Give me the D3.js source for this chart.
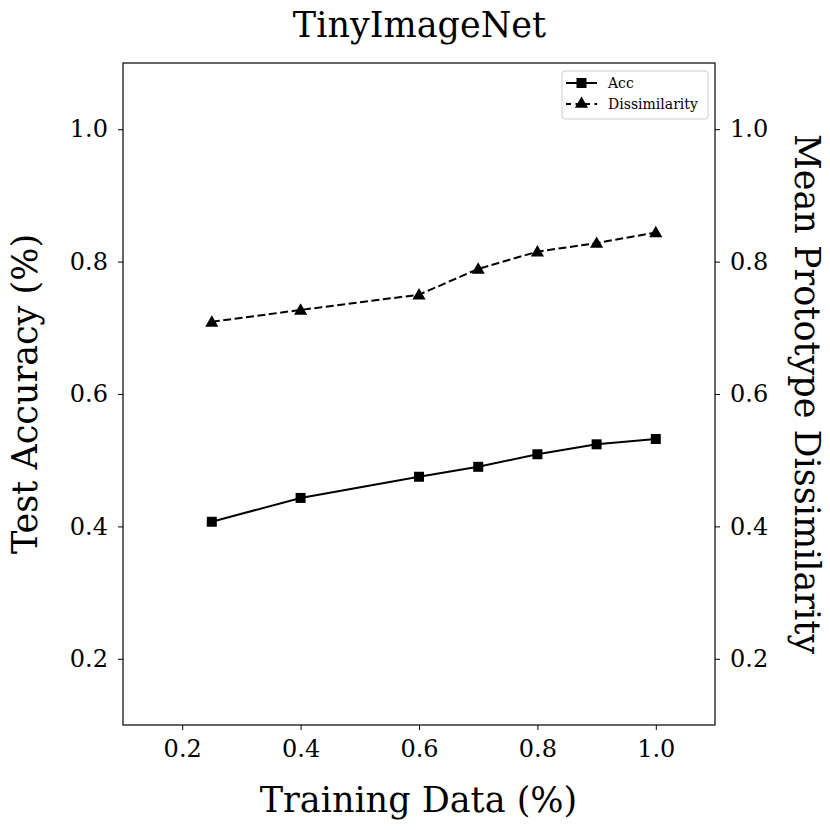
<!DOCTYPE html>
<html>
<head>
<meta charset="utf-8">
<script src="https://cdn.jsdelivr.net/npm/d3@7"></script>
<style>
  body { margin: 0; background: #fff; }
  text { font-family: "DejaVu Serif", serif; fill: #000; }
</style>
</head>
<body>
<div id="container"></div>
<script>
var trainFrac = [0.25, 0.4, 0.6, 0.7, 0.8, 0.9, 1.0];
var accValues = [0.407, 0.443, 0.475, 0.490, 0.509, 0.524, 0.532];
var dissValues = [0.709, 0.727, 0.750, 0.789, 0.815, 0.828, 0.844];
var xTicks = [0.2, 0.4, 0.6, 0.8, 1.0];
var yTicks = [0.2, 0.4, 0.6, 0.8, 1.0];

var W = 830, H = 830;
// plot box (note: "top" is taken by window.top, so use pad* names)
var padL = 123, padR = 715, padT = 63, padB = 725;

var svg = d3.select("#container").append("svg")
    .attr("width", W)
    .attr("height", H);

var x = d3.scaleLinear().domain([0.1, 1.1]).range([padL, padR]);
var yL = d3.scaleLinear().domain([0.1, 1.1]).range([padB, padT]);
var yR = d3.scaleLinear().domain([0.1, 1.1]).range([padB, padT]);

// axes
var fmt = d3.format(".1f");
function styleAxis(g){
    g.select(".domain").remove();
    g.selectAll(".tick line").attr("stroke", "#000").attr("stroke-width", 1);
    g.selectAll(".tick text").style("font-size", "24px").style("font-family", "DejaVu Serif");
}
svg.append("g").attr("transform", "translate(0," + padB + ")")
    .call(d3.axisBottom(x).tickValues(xTicks).tickFormat(fmt).tickSize(5).tickPadding(10))
    .call(styleAxis);
svg.append("g").attr("transform", "translate(" + padL + ",0)")
    .call(d3.axisLeft(yL).tickValues(yTicks).tickFormat(fmt).tickSize(5).tickPadding(10))
    .call(styleAxis);
svg.append("g").attr("transform", "translate(" + padR + ",0)")
    .call(d3.axisRight(yR).tickValues(yTicks).tickFormat(fmt).tickSize(5).tickPadding(10))
    .call(styleAxis);

svg.append("rect")
    .attr("x", padL).attr("y", padT)
    .attr("width", padR - padL).attr("height", padB - padT)
    .attr("fill", "none").attr("stroke", "#000").attr("stroke-width", 1.2);

// lines
var accPts = trainFrac.map(function(d, i){ return [x(d), yL(accValues[i])]; });
var dissPts = trainFrac.map(function(d, i){ return [x(d), yR(dissValues[i])]; });

svg.append("path").attr("d", d3.line()(accPts))
    .attr("fill", "none").attr("stroke", "#000").attr("stroke-width", 2);
svg.append("path").attr("d", d3.line()(dissPts))
    .attr("fill", "none").attr("stroke", "#000").attr("stroke-width", 2)
    .attr("stroke-dasharray", "8,3.5");

var sq = d3.symbol().type(d3.symbolSquare).size(100);
var tri = d3.symbol().type(d3.symbolTriangle).size(75);

svg.selectAll(".accpt").data(accPts).enter().append("path")
    .attr("d", sq)
    .attr("transform", function(d){ return "translate(" + d[0] + "," + d[1] + ")"; })
    .attr("fill", "#000");
svg.selectAll(".disspt").data(dissPts).enter().append("path")
    .attr("d", tri)
    .attr("transform", function(d){ return "translate(" + d[0] + "," + (d[1] + 1) + ")"; })
    .attr("fill", "#000");

// legend
var lg = svg.append("g").attr("transform", "translate(562,71)");
lg.append("rect").attr("width", 146).attr("height", 48).attr("rx", 3)
    .attr("fill", "#fff").attr("stroke", "#ccc").attr("stroke-width", 1);
lg.append("line").attr("x1", 4).attr("x2", 35).attr("y1", 12).attr("y2", 12)
    .attr("stroke", "#000").attr("stroke-width", 2);
lg.append("path").attr("d", sq).attr("transform", "translate(19.5,12)").attr("fill", "#000");
lg.append("line").attr("x1", 4).attr("x2", 35).attr("y1", 33).attr("y2", 33)
    .attr("stroke", "#000").attr("stroke-width", 2).attr("stroke-dasharray", "5,4.5");
lg.append("path").attr("d", tri).attr("transform", "translate(19.5,33)").attr("fill", "#000");
lg.append("text").attr("x", 46).attr("y", 17).text("Acc")
    .style("font-size", "14px");
lg.append("text").attr("x", 46).attr("y", 38).text("Dissimilarity")
    .style("font-size", "14px");

// titles
svg.append("text").attr("x", (padL + padR) / 2 + 0.5).attr("y", 37)
    .attr("text-anchor", "middle").style("font-size", "35px").text("TinyImageNet");
svg.append("text").attr("x", (padL + padR) / 2 - 0.5).attr("y", 812)
    .attr("text-anchor", "middle").style("font-size", "35px").text("Training Data (%)");
svg.append("text")
    .attr("transform", "translate(37," + ((padT + padB) / 2) + ") rotate(-90)")
    .attr("text-anchor", "middle").style("font-size", "35px").text("Test Accuracy (%)");
svg.append("text")
    .attr("transform", "translate(795," + ((padT + padB) / 2) + ") rotate(90)")
    .attr("text-anchor", "middle").style("font-size", "35px").text("Mean Prototype Dissimilarity");
</script>
</body>
</html>
